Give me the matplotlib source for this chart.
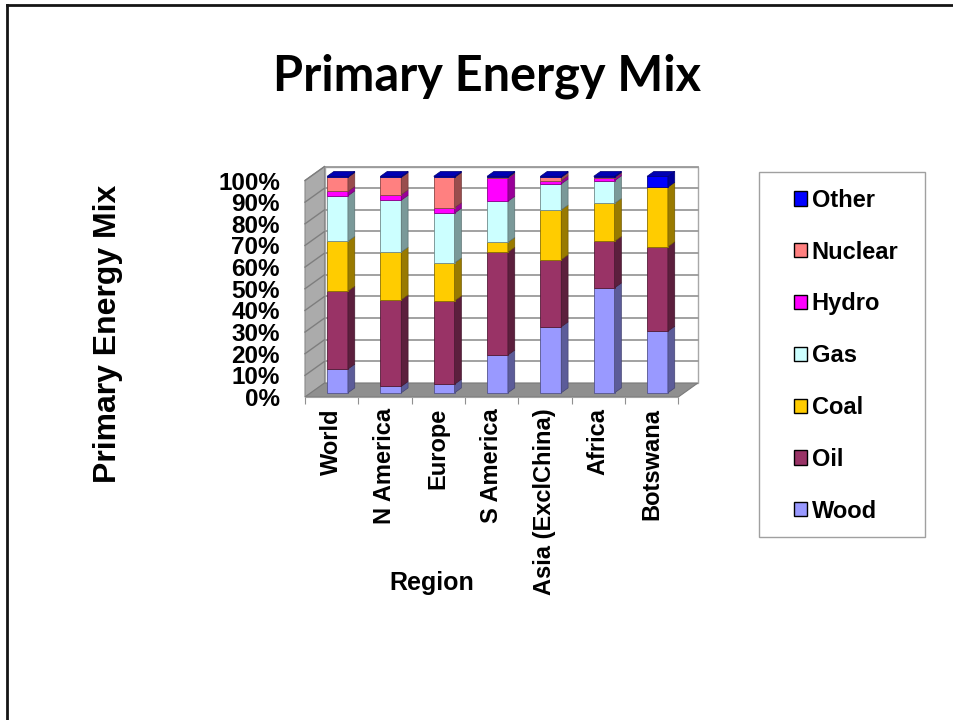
import numpy as np
import matplotlib.pyplot as plt
from matplotlib.patches import Polygon, Patch, Rectangle
from matplotlib.lines import Line2D
from matplotlib.colors import to_rgb

plt.rcParams['font.family'] = ['Liberation Sans', 'DejaVu Sans']
plt.rcParams['font.weight'] = 'bold'

regions = ["World", "N America", "Europe", "S America", "Asia (ExclChina)", "Africa", "Botswana"]
sources = ["Wood", "Oil", "Coal", "Gas", "Hydro", "Nuclear", "Other"]
colors = ["#9999FF", "#993366", "#FFCC00", "#CCFFFF", "#FF00FF", "#FF8080", "#0000FF"]

# share of each source in %, bottom to top of the stack
wood = [11.0, 3.0, 4.0, 17.5, 30.5, 48.5, 28.5]
oil = [36.0, 40.0, 38.5, 47.5, 31.0, 21.5, 39.0]
coal = [23.0, 22.0, 17.5, 4.5, 23.0, 17.5, 27.5]
gas = [21.0, 24.0, 23.0, 19.0, 12.0, 10.5, 0.0]
hydro = [2.0, 2.5, 2.5, 10.5, 1.5, 1.0, 0.0]
nuclear = [6.5, 8.0, 14.0, 0.5, 1.5, 0.5, 0.0]
other = [0.5, 0.5, 0.5, 0.5, 0.5, 0.5, 5.0]

series = [wood, oil, coal, gas, hydro, nuclear, other]

# fake 3d: how far the back of the box is shifted (x in categories, y in %)
DX = 0.366
DY = 6.45
front, back = 0.30, 0.65
w = 0.39


def proj(x, y, d):
    return (x + DX * d, y + DY * d)


def shade(c, k):
    r, g, b = to_rgb(c)
    return (r * k, g * k, b * k)


fig = plt.figure(figsize=(9.54, 7.2), dpi=100)
W, H = 954.0, 720.0
ax = fig.add_axes([305 / W, (H - 397) / H, (678.3 - 305) / W, (397 - 180.5) / H])
ax.set_xlim(-0.5, 6.5)
ax.set_ylim(0, 100)
ax.patch.set_visible(False)
for s in ax.spines.values():
    s.set_visible(False)

n = len(regions)
x0, x1 = -0.5, n - 0.5

# walls and floor
back_wall = [proj(x0, 0, 1), proj(x1, 0, 1), proj(x1, 100, 1), proj(x0, 100, 1)]
ax.add_patch(Polygon(back_wall, closed=True, fc='white', ec='#A8A8A8', lw=1, zorder=0, clip_on=False))
left_wall = [proj(x0, 0, 0), proj(x0, 0, 1), proj(x0, 100, 1), proj(x0, 100, 0)]
ax.add_patch(Polygon(left_wall, closed=True, fc='#ABABAB', ec='#8A8A8A', lw=0.8, zorder=0, clip_on=False))
floor = [proj(x0, 0, 0), proj(x1, 0, 0), proj(x1, 0, 1), proj(x0, 0, 1)]
ax.add_patch(Polygon(floor, closed=True, fc='#8F8F8F', ec='#7A7A7A', lw=0.8, zorder=1, clip_on=False))

for g in range(10, 101, 10):
    a, b = proj(x0, g, 1), proj(x1, g, 1)
    ax.plot([a[0], b[0]], [a[1], b[1]], color='#9A9A9A', lw=1.3, zorder=0.5, clip_on=False)
    a, b = proj(x0, g, 0), proj(x0, g, 1)
    ax.plot([a[0], b[0]], [a[1], b[1]], color='#7E7E7E', lw=1.0, zorder=0.5, clip_on=False)

# stacked bars: front face with ax.bar, side and top faces as polygons
bottoms = np.zeros(n)
for k, vals in enumerate(series):
    vals = np.array(vals)
    xs = np.arange(n) + DX * front
    ax.bar(xs, vals, bottom=bottoms + DY * front, width=w, color=colors[k],
           edgecolor=shade(colors[k], 0.55), lw=0.6, zorder=3, clip_on=False)
    for i in range(n):
        if vals[i] <= 0:
            continue
        xr = i + w / 2
        yb, yt = bottoms[i], bottoms[i] + vals[i]
        side = [proj(xr, yb, front), proj(xr, yb, back), proj(xr, yt, back), proj(xr, yt, front)]
        ax.add_patch(Polygon(side, closed=True, fc=shade(colors[k], 0.6),
                             ec=shade(colors[k], 0.45), lw=0.5, zorder=3, clip_on=False))
    bottoms = bottoms + vals

# top face of each column, coloured by its top segment
for i in range(n):
    top_k = max(k for k in range(len(series)) if series[k][i] > 0)
    xl, xr = i - w / 2, i + w / 2
    yt = bottoms[i]
    top = [proj(xl, yt, front), proj(xr, yt, front), proj(xr, yt, back), proj(xl, yt, back)]
    ax.add_patch(Polygon(top, closed=True, fc=shade(colors[top_k], 0.7),
                         ec=shade(colors[top_k], 0.45), lw=0.5, zorder=4, clip_on=False))

# axes ticks
ax.set_yticks(np.arange(0, 101, 10))
ax.set_yticklabels([f"{v}%" for v in range(0, 101, 10)], fontsize=17.5, fontweight='bold')
ax.tick_params(axis='y', length=0, pad=18)
ax.set_xticks(np.arange(n))
ax.set_xticklabels(regions, rotation=90, fontsize=17, fontweight='bold', va='top')
ax.tick_params(axis='x', which='major', length=0, pad=8)
ax.set_xticks(np.arange(-0.5, n, 1), minor=True)
ax.tick_params(axis='x', which='minor', length=5, width=0.8, color='#909090')
ax.plot([x0, x1], [0, 0], color='#A0A0A0', lw=0.8, zorder=2, clip_on=False)

# text
fig.text(487 / W, 1 - 76 / H, "Primary Energy Mix", ha='center', va='center',
         fontsize=35, fontweight='bold', family='Lato')
fig.text(108 / W, 1 - 334 / H, "Primary Energy Mix", rotation=90, ha='center', va='center',
         fontsize=23, fontweight='bold')
fig.text(432 / W, 1 - 583 / H, "Region", ha='center', va='center', fontsize=18, fontweight='bold')

# legend
fig.patches.append(Rectangle((759 / W, 1 - 537 / H), 166 / W, 365 / H, transform=fig.transFigure,
                             fill=False, ec='#A0A0A0', lw=1))
handles = [Patch(facecolor=colors[k], edgecolor='black', lw=1, label=sources[k])
           for k in range(len(sources) - 1, -1, -1)]
fig.legend(handles=handles, loc='upper left', bbox_to_anchor=(782 / W, 1 - 177 / H),
           frameon=False, prop={'size': 17, 'weight': 'bold'}, handlelength=0.55,
           handleheight=0.55, handletextpad=0.2, labelspacing=1.22, borderpad=0)

# slide frame
fig.add_artist(Line2D([7 / W, 7 / W], [0, 1 - 5 / H], color='#151515', lw=2))
fig.add_artist(Line2D([7 / W, 1], [1 - 5 / H, 1 - 5 / H], color='#151515', lw=2))

fig.savefig("out.png", dpi=100)
